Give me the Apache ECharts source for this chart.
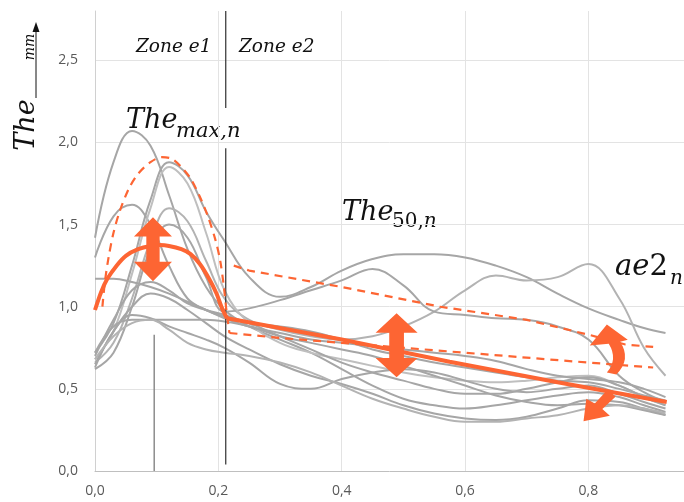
<!DOCTYPE html>
<html><head><meta charset="utf-8">
<script src="https://cdn.jsdelivr.net/npm/echarts@6/dist/echarts.min.js"></script>
<style>html,body{margin:0;padding:0;background:#fff}#c{width:684px;height:502px}</style>
</head><body><div id="c"></div><script>
// sample positions (relative position along the part)
const xs = [0, .03, .06, .09, .12, .15, .18, .21, .25, .30, .35, .40, .45, .50, .55, .60, .65, .70, .75, .80, .85, .89, .925];
// grey individual curves (mm)
const grey1  = [1.42,1.88,2.07,1.98,1.68,1.35,1.12,0.98,0.88,0.80,0.72,0.62,0.52,0.44,0.40,0.38,0.40,0.43,0.46,0.48,0.45,0.40,0.36];
const grey2  = [0.72,0.90,1.25,1.65,1.88,1.80,1.58,1.40,1.18,1.06,1.12,1.22,1.29,1.32,1.32,1.30,1.25,1.18,1.08,0.99,0.92,0.87,0.84];
const grey3  = [1.30,1.55,1.62,1.50,1.25,1.05,0.98,0.94,0.90,0.88,0.85,0.80,0.74,0.70,0.66,0.63,0.60,0.57,0.55,0.54,0.50,0.46,0.43];
const grey4  = [0.66,0.78,1.05,1.40,1.60,1.52,1.28,1.05,0.92,0.86,0.82,0.80,0.82,0.88,0.97,1.10,1.19,1.16,1.18,1.26,1.05,0.75,0.58];
const grey5  = [0.62,0.72,1.00,1.35,1.50,1.42,1.18,0.97,0.99,1.04,1.10,1.16,1.23,1.13,0.97,0.95,0.93,0.92,0.88,0.80,0.58,0.48,0.42];
const grey6  = [0.68,0.85,1.20,1.60,1.85,1.75,1.45,1.10,0.90,0.78,0.72,0.68,0.64,0.60,0.57,0.55,0.54,0.55,0.57,0.58,0.52,0.45,0.40];
const grey7  = [0.70,0.92,1.10,1.15,1.10,1.02,0.98,0.95,0.90,0.82,0.74,0.66,0.60,0.55,0.50,0.47,0.47,0.50,0.54,0.57,0.52,0.45,0.40];
const grey8  = [0.65,0.85,1.00,1.08,1.05,0.98,0.90,0.82,0.74,0.65,0.58,0.53,0.47,0.40,0.35,0.32,0.31,0.33,0.38,0.43,0.42,0.38,0.34];
const grey9  = [0.63,0.85,0.95,0.93,0.88,0.84,0.80,0.75,0.66,0.53,0.50,0.56,0.60,0.62,0.60,0.55,0.50,0.48,0.50,0.52,0.47,0.42,0.38];
const grey10 = [0.72,0.88,0.92,0.92,0.92,0.92,0.92,0.91,0.88,0.82,0.78,0.74,0.70,0.64,0.58,0.52,0.46,0.42,0.40,0.41,0.40,0.37,0.34];
const grey11 = [1.17,1.17,1.15,1.12,1.08,1.03,0.98,0.93,0.88,0.84,0.80,0.78,0.76,0.74,0.72,0.70,0.67,0.62,0.58,0.56,0.54,0.50,0.45];
const grey12 = [0.68,0.82,0.90,0.92,0.86,0.78,0.74,0.72,0.70,0.66,0.60,0.52,0.44,0.38,0.33,0.30,0.30,0.32,0.34,0.38,0.40,0.38,0.35];
const greys = [grey1, grey2, grey3, grey4, grey5, grey6, grey7, grey8, grey9, grey10, grey11, grey12];
const greyColors = ['#a6a6a6','#a6a6a6','#a6a6a6','#b3b3b3','#a6a6a6','#bfbfbf','#a6a6a6','#a6a6a6','#a6a6a6','#a6a6a6','#a6a6a6','#b3b3b3'];

// orange envelope / mean lines
const meanArc   = [[0,0.98],[0.01,1.09],[0.02,1.17],[0.035,1.25],[0.05,1.31],[0.07,1.35],[0.09,1.37],[0.105,1.375],[0.12,1.37],[0.14,1.35],[0.155,1.32],[0.17,1.26],[0.185,1.17],[0.197,1.08],[0.206,0.99],[0.214,0.93]];
const meanLine  = [[0.214,0.93],[0.4,0.80],[0.575,0.665],[0.75,0.54],[0.927,0.42]];
const upperArc  = [[0.012,1.0],[0.016,1.15],[0.022,1.3],[0.03,1.45],[0.04,1.58],[0.055,1.72],[0.07,1.81],[0.09,1.88],[0.108,1.91],[0.125,1.9],[0.14,1.85],[0.155,1.78],[0.17,1.67],[0.183,1.55],[0.195,1.41],[0.203,1.28],[0.209,1.12],[0.213,0.98],[0.218,0.84]];
const lowerLine = [[0.218,0.84],[0.3,0.81],[0.4,0.78],[0.5,0.75],[0.6,0.72],[0.8,0.66],[0.905,0.63]];
const upperLine = [[0.225,1.25],[0.25,1.22],[0.4,1.12],[0.56,1.0],[0.7,0.92],[0.8,0.83],[0.86,0.77],[0.905,0.755]];

// zone separator and marker lines
const zoneTop    = [[0.212,2.8],[0.212,2.21]];
const zoneBottom = [[0.212,1.965],[0.212,0.04]];
const markerLine = [[0.096,0.83],[0.096,0]];

// arrow positions (centre of each arrow)
const dblArrows  = [[0.094,1.35],[0.489,0.765]];
const curvedUp   = [[0.833,0.74]];
const curvedDown = [[0.818,0.40]];

const ORANGE = '#fd6533';
const fmt = v => v.toFixed(1).replace('.', ',');
const chart = echarts.init(document.getElementById('c'), null, {renderer:'canvas'});

const series = [];
greys.forEach((g, k) => series.push({
  type:'line', data: xs.map((x,i)=>[x,g[i]]), smooth:0.4, symbol:'none',
  lineStyle:{color:greyColors[k], width:2}, z:2, silent:true
}));
series.push({type:'line', data:markerLine, symbol:'none', lineStyle:{color:'#8c8c8c', width:1.5}, z:3});
series.push({type:'line', data:zoneTop, symbol:'none', lineStyle:{color:'#303030', width:1.2}, z:3});
series.push({type:'line', data:zoneBottom, symbol:'none', lineStyle:{color:'#303030', width:1.2}, z:3});
series.push({type:'line', data:upperArc, smooth:0.3, symbol:'none', lineStyle:{color:ORANGE, width:2.2, type:[8,6]}, z:4});
series.push({type:'line', data:lowerLine, symbol:'none', lineStyle:{color:ORANGE, width:2.2, type:[8,6]}, z:4});
series.push({type:'line', data:upperLine, symbol:'none', lineStyle:{color:ORANGE, width:2.2, type:[8,6]}, z:4});
series.push({type:'line', data:meanArc, smooth:0.3, symbol:'none', lineStyle:{color:ORANGE, width:4}, z:5});
series.push({type:'line', data:meanLine, symbol:'none', lineStyle:{color:ORANGE, width:4}, z:5});
series.push({type:'scatter', z:6, itemStyle:{color:ORANGE, opacity:1},
  data: dblArrows.map((p,i)=>({value:p, symbol:'path://M20,0 L40,20 L27,20 L27,46 L40,46 L20,66 L0,46 L13,46 L13,20 L0,20 Z', symbolSize: i===0?[38,64]:[42,64]}))});
series.push({type:'scatter', z:6, itemStyle:{color:ORANGE, opacity:1},
  data: curvedUp.map(p=>({value:p, symbol:'path://M0,22 L18,0 L40,16 L32,18 Q44,36 28,52 L18,50 Q30,36 20,20 Z', symbolSize:[38,50]}))});
series.push({type:'scatter', z:6, itemStyle:{color:ORANGE, opacity:1},
  data: curvedDown.map(p=>({value:p, symbol:'path://M0,34 L3,10 L12,15 L26,0 L34,8 L20,21 L28,28 Z', symbolSize:[32,32]}))});

const serif = 'DejaVu Serif';
chart.setOption({
  animation:false,
  grid:{left:95, right:0, top:11, bottom:31, containLabel:false, outerBoundsMode:'none'},
  xAxis:{type:'value', min:0, max:0.955, interval:0.2,
    axisLine:{show:true, lineStyle:{color:'#bfbfbf', width:1}}, axisTick:{show:false},
    splitLine:{show:true, showMinLine:false, showMaxLine:false, lineStyle:{color:'#e3e3e3', width:1}},
    axisLabel:{showMaxLabel:false, margin:13, color:'#595959', fontSize:14, fontFamily:'Open Sans', formatter:fmt}},
  yAxis:{type:'value', min:0, max:2.8, interval:0.5,
    axisLine:{show:true, lineStyle:{color:'#d0d0d0', width:1}}, axisTick:{show:false},
    splitLine:{show:true, showMinLine:false, showMaxLine:false, lineStyle:{color:'#e3e3e3', width:1}},
    axisLabel:{showMaxLabel:false, margin:17, color:'#595959', fontSize:14, fontFamily:'Open Sans', formatter:fmt}},
  series,
  graphic:[
    {type:'text', x:136, y:47, style:{text:'Zone e1', font:'italic 18.5px "'+serif+'"', fill:'#111', verticalAlign:'middle'}},
    {type:'text', x:239, y:47, style:{text:'Zone e2', font:'italic 18.5px "'+serif+'"', fill:'#111', verticalAlign:'middle'}},
    {type:'text', x:126, y:121, style:{text:'The', font:'italic 27px "'+serif+'"', fill:'#111', verticalAlign:'middle'}},
    {type:'text', x:176, y:132, style:{text:'max,n', font:'italic 21px "'+serif+'"', fill:'#111', verticalAlign:'middle'}},
    {type:'text', x:342, y:213, style:{text:'The', font:'italic 27px "'+serif+'"', fill:'#111', verticalAlign:'middle'}},
    {type:'text', x:392, y:222, style:{text:'{d|50,}{i|n}', fill:'#111', verticalAlign:'middle',
      rich:{d:{font:'20px "'+serif+'"'}, i:{font:'italic 20px "'+serif+'"'}}}},
    {type:'text', x:615, y:267, style:{text:'{i|ae}{d|2}', fill:'#111', verticalAlign:'middle',
      rich:{d:{font:'29px "'+serif+'"'}, i:{font:'italic 29px "'+serif+'"'}}}},
    {type:'text', x:670, y:279, style:{text:'n', font:'italic 20px "'+serif+'"', fill:'#111', verticalAlign:'middle'}},
    {type:'text', x:27, y:125, rotation:Math.PI/2, style:{text:'The', font:'italic 27px "'+serif+'"', fill:'#111', align:'center', verticalAlign:'middle'}},
    {type:'text', x:30, y:47, rotation:Math.PI/2, style:{text:'mm', font:'italic 14px "'+serif+'"', fill:'#111', align:'center', verticalAlign:'middle'}},
    {type:'line', shape:{x1:36, y1:98, x2:36, y2:30}, style:{stroke:'#111', lineWidth:1}},
    {type:'polygon', shape:{points:[[36,22],[32.5,32],[39.5,32]]}, style:{fill:'#111'}}
  ]
});
</script></body></html>
